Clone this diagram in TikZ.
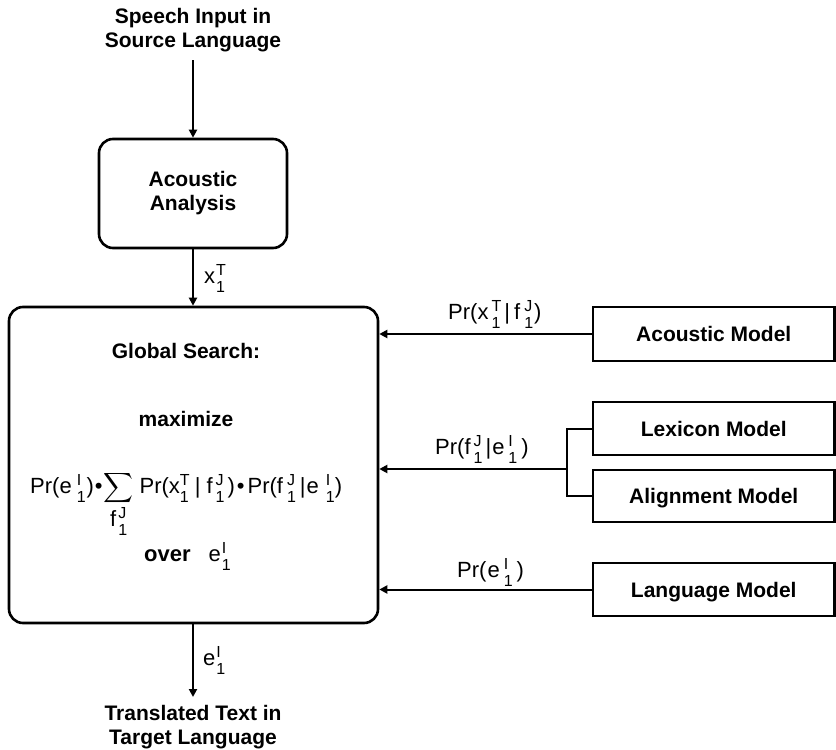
\documentclass[tikz,border=0pt]{standalone}
\usepackage{exscale}
\usepackage{fontspec}
\setmainfont{Liberation Sans}
\usetikzlibrary{arrows.meta}
\newcommand\smf{\fontsize{16}{16}\selectfont}
\newcommand\su[2]{\hbox{\smf\rlap{\raisebox{8pt}{#2}}\raisebox{-9pt}{#1}}}
\newcommand\kk[1]{\kern#1pt\relax}
\begin{document}
\begin{tikzpicture}[x=1pt,y=-1pt,
  every node/.style={inner sep=0pt, font=\fontsize{22}{24}\selectfont},
  ttl/.style={font=\fontsize{21}{24}\selectfont\bfseries, align=center},
  rbox/.style={draw, line width=2.6pt, rounded corners=14pt},
  mbox/.style={draw, line width=2.6pt, minimum width=241.5pt, text height=15pt, text depth=0pt, font=\fontsize{21}{24}\selectfont\bfseries},
  conn/.style={line width=2pt, -{Triangle[length=8pt,width=8pt]}},
  lbl/.style={anchor=base west, font=\fontsize{22}{24}\selectfont}]
\useasboundingbox (0,0) rectangle (836,750);
% left column
\node[ttl, anchor=north] (in) at (193,7.7) {Speech Input in\\Source Language};
\coordinate (inend) at (193,60);
\node[rbox, ttl, minimum width=188pt, minimum height=109pt] (aa) at (193,193.5) {Acoustic\\Analysis};
\node[rbox, minimum width=369pt, minimum height=316pt] (gs) at (193.5,465) {};
\node[ttl, anchor=base] (gstitle) at (186,358) {Global Search:};
\node[ttl, anchor=base] (maxim) at (186,426) {maximize};
\node[anchor=base west] (formula) at (30,493) {Pr(e\kk{5}\su{1}{I}\kk{1})\kk{1}•\kk{1}$\displaystyle\sum_{\hbox{f\kk{2}\su{1}{J}}}$\kk{6}Pr(x\su{1}{T}\kk{6}|\kk{6}f\kk{3}\su{1}{J}\kk{3})\kk{2}•\kk{3}Pr(f\kk{4}\su{1}{J}\kk{4}|\kk{1}e\kk{7}\su{1}{I})};
\node[anchor=base west] (overn) at (144,561) {\bfseries over\hspace{18pt}\mdseries e\kk{1}\su{1}{I}};
\coordinate (outend) at (193,697);
\node[ttl, anchor=north] (out) at (193,705.4) {Translated Text in\\Target Language};
\draw[conn] (inend) -- (aa.north);
\draw[conn] (aa.south) -- (aa.south |- gs.north);
\draw[conn] (gs.south -| aa.south) -- (outend);
\node[lbl] (lx) at (204,283) {x\kk{1}\su{1}{T}};
\node[lbl] (le) at (203,665) {e\kk{1}\su{1}{I}};
% right column
\node[mbox, minimum height=54pt] (am) at (713.75,334) {Acoustic Model};
\node[mbox, minimum height=53pt] (lex) at (713.75,428.5) {Lexicon Model};
\node[mbox, minimum height=52pt] (ali) at (713.75,496) {Alignment Model};
\node[mbox, minimum height=53pt] (lm) at (713.75,589.5) {Language Model};
\draw[conn] (am.west) -- (am.west -| gs.east);
\node[lbl] (lam) at (448,319) {Pr(x\kk{3}\su{1}{T}\kk{4}|\kk{4}f\kk{4}\su{1}{J}\kk{1})};
\coordinate (j) at (567,469);
\draw[line width=2pt] (lex.west) -- (lex.west -| j) -- (ali.west -| j) -- (ali.west);
\draw[conn] (j) -- (j -| gs.east);
\node[lbl] (ltm) at (435,454) {Pr(f\kk{3}\su{1}{J}\kk{3}|\kk{1}e\kk{4}\su{1}{I}\kk{4})};
\draw[conn] (lm.west) -- (lm.west -| gs.east);
\node[lbl] (llm) at (457,577) {Pr(\kk{1}e\kk{4}\su{1}{I}\kk{4})};
\end{tikzpicture}
\end{document}
